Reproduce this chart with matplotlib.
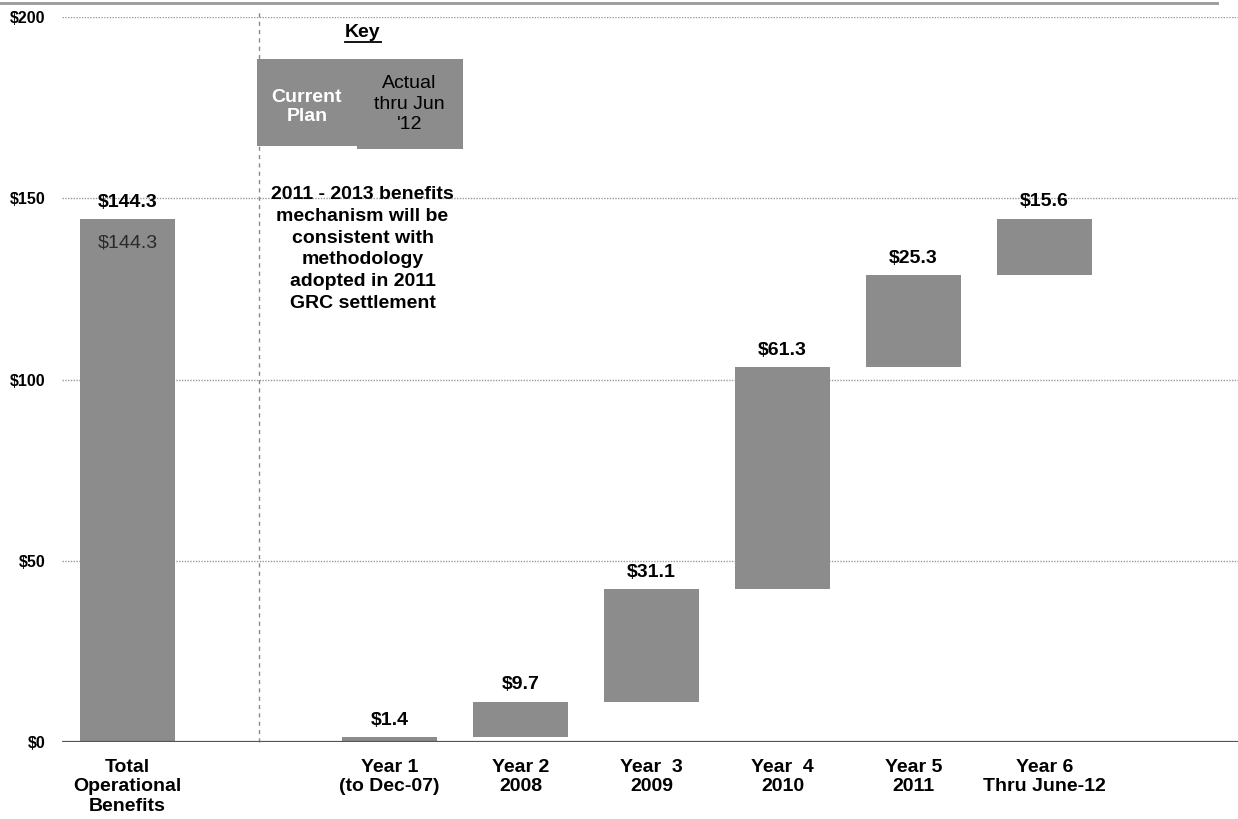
import numpy as np
import matplotlib
matplotlib.use("Agg")
import matplotlib.pyplot as plt
from matplotlib.patches import Rectangle
from matplotlib.lines import Line2D

plt.rcParams['font.family'] = ['Liberation Sans', 'DejaVu Sans']

# --- data ---------------------------------------------------------------
total_label = "Total\nOperational\nBenefits"
total_value = 144.3

year_labels = ["Year 1\n(to Dec-07)", "Year 2\n2008", "Year  3\n2009",
               "Year  4\n2010", "Year 5\n2011", "Year 6\nThru June-12"]
year_values = [1.4, 9.7, 31.1, 61.3, 25.3, 15.6]

y_ticks = [0, 50, 100, 150, 200]
y_tick_labels = ["$0", "$50", "$100", "$150", "$200"]

note_text = ("2011 - 2013 benefits\nmechanism will be\nconsistent with\n"
             "methodology\nadopted in 2011\nGRC settlement")

# --- figure -------------------------------------------------------------
BAR = "#8c8c8c"
fig = plt.figure(figsize=(12.38, 8.19), dpi=100)
ax = fig.add_axes([0.0501, 0.0940, 0.9499, 0.8852])

# total bar at slot 0, yearly waterfall steps from slot 2 onward
total_x = 0
year_x = np.arange(2, 2 + len(year_values))
year_bottoms = np.concatenate([[0], np.cumsum(year_values)[:-1]])
width = 0.72

ax.bar(total_x, total_value, width=width, color=BAR, zorder=3)
ax.bar(year_x, year_values, bottom=year_bottoms, width=width, color=BAR, zorder=3)

lab_kw = dict(ha="center", va="bottom", fontsize=14, fontweight="bold",
              textcoords="offset points", xytext=(0, 6))
ax.annotate(f"${total_value:.1f}", (total_x, total_value), **lab_kw)
ax.annotate(f"${total_value:.1f}", (total_x, total_value), xytext=(0, -17),
            textcoords="offset points", ha="center", va="center",
            fontsize=14, color="#2a2a2a")
for x, b, v in zip(year_x, year_bottoms, year_values):
    ax.annotate(f"${v:.1f}", (x, b + v), **lab_kw)

# axes styling
ax.set_xlim(-0.5, 8.477)
ax.set_ylim(0, 200)
for s in ax.spines.values():
    s.set_visible(False)
ax.set_yticks(y_ticks)
ax.set_yticklabels(y_tick_labels, fontsize=11.5, fontweight="bold")
ax.set_xticks([total_x, *year_x])
ax.set_xticklabels([total_label, *year_labels], fontsize=14, fontweight="bold",
                   linespacing=1.2)
ax.tick_params(axis="both", length=0)
ax.tick_params(axis="y", pad=12)
ax.tick_params(axis="x", pad=12)
for y in y_ticks[1:]:
    ax.axhline(y, color="#999999", lw=1.0, ls=(0, (1, 1)), zorder=1)
ax.axhline(0, color="#555555", lw=1.6, zorder=4)

# divider between total and yearly breakdown
ax.plot([1, 1], [0, 202], color="#8a8a8a", lw=1.0, ls=(0, (3, 3)),
        clip_on=False, zorder=2)

# key
ax.text(1.798, 195.6, "Key", ha="center", va="center", fontsize=14,
        fontweight="bold")
ax.plot([1.66, 1.935], [193.0, 193.0], color="black", lw=1.3, clip_on=False)
ax.add_patch(Rectangle((0.989, 164.4), 1.752 - 0.989, 188.4 - 164.4,
                       color=BAR, lw=0, zorder=3))
ax.add_patch(Rectangle((1.752, 163.6), 2.561 - 1.752, 188.4 - 163.6,
                       color=BAR, lw=0, zorder=3))
ax.text(1.370, 175.2, "Current\nPlan", ha="center", va="center", fontsize=14,
        fontweight="bold", color="white", linespacing=1.2, zorder=4)
ax.text(2.150, 176.0, "Actual\nthru Jun\n'12", ha="center", va="center",
        fontsize=14, color="black", linespacing=1.25, zorder=4)

ax.text(1.794, 136.0, note_text, ha="center", va="center", fontsize=14,
        fontweight="bold", linespacing=1.38)

# thin rule across the top of the page
fig.add_artist(Line2D([0, 0.983], [1 - 2.5 / 819, 1 - 2.5 / 819],
                      color="#999999", lw=2))

fig.savefig("out.png", dpi=100, facecolor="white")
